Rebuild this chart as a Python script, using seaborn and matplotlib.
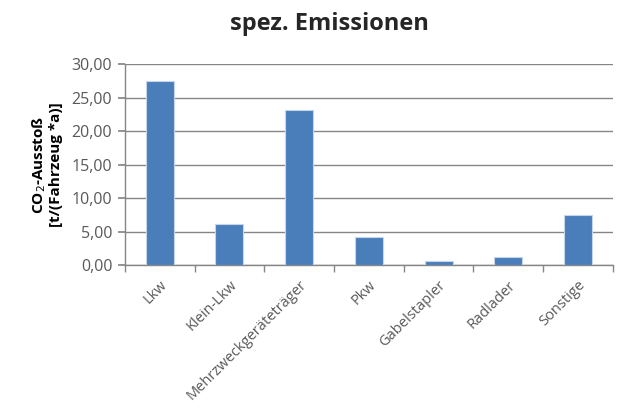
import pandas as pd
import matplotlib.pyplot as plt
import seaborn as sns
from matplotlib.ticker import FuncFormatter, FixedLocator

categories = ["Lkw", "Klein-Lkw", "Mehrzweckgeräteträger", "Pkw", "Gabelstapler", "Radlader", "Sonstige"]
emissions = [27.5, 6.2, 23.2, 4.2, 0.65, 1.25, 7.4]
y_ticks = [0, 5, 10, 15, 20, 25, 30]

df = pd.DataFrame({"kategorie": categories, "emission": emissions})

sns.set_theme(style="white")
plt.rcParams["font.family"] = ["Open Sans", "DejaVu Sans"]
text_grey = "#595959"
line_grey = "#868686"

fig = plt.figure(figsize=(6.21, 4.09), dpi=100)
ax = fig.add_axes([0.201, 0.352, 0.786, 0.491])

sns.barplot(data=df, x="kategorie", y="emission", color="#4a7ebb", width=0.4,
            saturation=1, edgecolor="#c6d6ea", linewidth=0.8, ax=ax, zorder=3)

ax.set_ylim(0, 30)
ax.set_xlim(-0.5, len(categories) - 0.5)
ax.yaxis.set_major_locator(FixedLocator(y_ticks))
ax.yaxis.set_major_formatter(FuncFormatter(lambda v, p: f"{v:.2f}".replace(".", ",")))
ax.yaxis.grid(True, color=line_grey, linewidth=1, zorder=0)
ax.set_axisbelow(True)

for s in ["top", "right"]:
    ax.spines[s].set_visible(False)
for s in ["left", "bottom"]:
    ax.spines[s].set_color(line_grey)
    ax.spines[s].set_linewidth(1)

# category boundary ticks
ax.set_xticks([i - 0.5 for i in range(len(categories) + 1)], minor=True)
ax.tick_params(axis="x", which="minor", length=5, color=line_grey, direction="out", bottom=True)
ax.tick_params(axis="x", which="major", length=0, pad=9)
ax.tick_params(axis="y", length=5, color=line_grey, direction="out", left=True, pad=4,
               labelsize=11.5, labelcolor=text_grey)
ax.set_xticks(range(len(categories)))
ax.set_xticklabels(categories, rotation=45, ha="right", rotation_mode="anchor",
                   fontsize=10.5, color=text_grey)

ax.set_xlabel("")
ax.set_ylabel("CO$_2$-Ausstoß\n[t/(Fahrzeug *a)]", fontsize=11, fontweight="bold",
              color="black", labelpad=6, linespacing=1.1)

fig.suptitle("spez. Emissionen", x=0.53, y=0.97, fontsize=17, fontweight="bold")

plt.savefig("out.png", dpi=100)
plt.close()
